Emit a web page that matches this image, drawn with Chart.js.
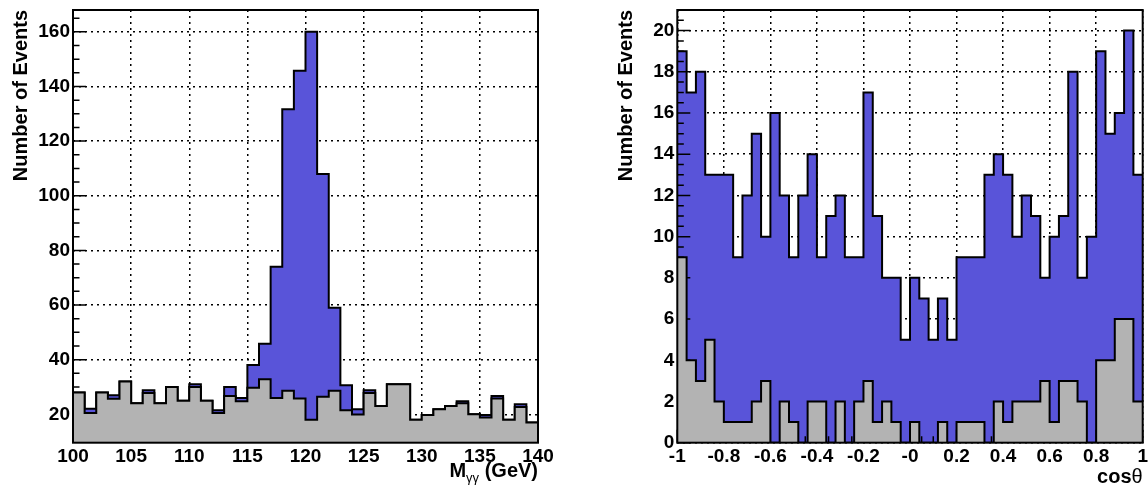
<!DOCTYPE html>
<html>
<head>
<meta charset="utf-8">
<script src="https://cdn.jsdelivr.net/npm/chart.js@4.4.0/dist/chart.umd.min.js"></script>
<style>
  html, body { margin: 0; padding: 0; background: #fff; }
  #wrap { position: relative; width: 1148px; height: 491px; overflow: hidden; }
  canvas { position: absolute; top: 0; }
  #massChart { left: 0; }
  #cosChart { left: 574px; }
</style>
</head>
<body>
<div id="wrap">
  <canvas id="massChart" width="574" height="491"></canvas>
  <canvas id="cosChart" width="574" height="491"></canvas>
</div>
<script>
// ---- left panel: diphoton mass ----
const massBinLow = [100, 101, 102, 103, 104, 105, 106, 107, 108, 109,
                    110, 111, 112, 113, 114, 115, 116, 117, 118, 119,
                    120, 121, 122, 123, 124, 125, 126, 127, 128, 129,
                    130, 131, 132, 133, 134, 135, 136, 137, 138, 139];
const massBinWidth = 1;
const massBackground = [28, 20.5, 28, 25.7, 32, 24, 27.8, 24, 30, 25,
                        30, 25, 20.5, 26.7, 24.8, 29.7, 32.8, 26, 28.6, 25.8,
                        18, 26.4, 28.6, 21.5, 19.9, 27.8, 23, 31, 31, 18,
                        19.7, 21.8, 23, 24, 20, 18.8, 25.8, 18, 22.7, 17];
const massSignal = [0, 1.5, 0, 1.3, 0, 0, 1, 0, 0, 0,
                    1, 0, 1, 3.3, 1.2, 8.3, 13, 48, 103.1, 120,
                    142, 81.6, 30.4, 9.1, 1.9, 1, 0, 0, 0, 0,
                    0, 0, 0, 0.8, 0, 0.9, 0.9, 0, 1, 0];
const massTicks = [100, 105, 110, 115, 120, 125, 130, 135, 140];
const massYTicks = [20, 40, 60, 80, 100, 120, 140, 160];

// ---- right panel: cos(theta) ----
const cosBinLow = [-1, -0.96, -0.92, -0.88, -0.84, -0.8, -0.76, -0.72, -0.68, -0.64,
                   -0.6, -0.56, -0.52, -0.48, -0.44, -0.4, -0.36, -0.32, -0.28, -0.24,
                   -0.2, -0.16, -0.12, -0.08, -0.04, 0, 0.04, 0.08, 0.12, 0.16,
                   0.2, 0.24, 0.28, 0.32, 0.36, 0.4, 0.44, 0.48, 0.52, 0.56,
                   0.6, 0.64, 0.68, 0.72, 0.76, 0.8, 0.84, 0.88, 0.92, 0.96];
const cosBinWidth = 0.04;
const cosBackground = [9, 4, 3, 5, 2, 1, 1, 1, 2, 3,
                       0, 2, 1, 0, 2, 2, 0, 2, 0, 2,
                       3, 1, 2, 1, 0, 1, 0, 0, 1, 0,
                       1, 1, 1, 0, 2, 1, 2, 2, 2, 3,
                       1, 3, 3, 2, 0, 4, 4, 6, 6, 2];
const cosSignal = [10, 13, 15, 8, 11, 12, 8, 11, 13, 7,
                   16, 10, 8, 12, 12, 7, 11, 10, 9, 7,
                   14, 10, 6, 7, 5, 7, 7, 5, 6, 5,
                   8, 8, 8, 13, 12, 12, 8, 10, 9, 5,
                   9, 8, 15, 6, 10, 15, 11, 10, 14, 11];
const cosTicks = [-1, -0.8, -0.6, -0.4, -0.2, 0, 0.2, 0.4, 0.6, 0.8, 1];
const cosTickLabels = ['-1', '-0.8', '-0.6', '-0.4', '-0.2', '-0', '0.2', '0.4', '0.6', '0.8', '1'];
const cosYTicks = [0, 2, 4, 6, 8, 10, 12, 14, 16, 18, 20];

const yTitle = 'Number of Events';
const massTitleParts = ['M', 'γγ', ' (GeV)'];
const cosTitleParts = ['cos', 'θ'];

const BLUE = 'rgb(89, 84, 217)';
const GRAY = 'rgb(179, 179, 179)';
const FAMILY = "'Liberation Sans', Arial, Helvetica, sans-serif";

// histogram as step points on bin edges (last point closes the final bin)
function stepPoints(binLow, width, values) {
    const pts = binLow.map((x, i) => ({ x: x, y: values[i] }));
    const n = binLow.length;
    pts.push({ x: binLow[n - 1] + width, y: values[n - 1] });
    return pts;
}

function drawAxisTicks(chart, o) {
    const ctx = chart.ctx;
    const a = chart.chartArea;
    const xs = chart.scales.x, ys = chart.scales.y;
    ctx.save();
    ctx.strokeStyle = '#000';
    ctx.lineWidth = 1.5;
    ctx.beginPath();
    // y ticks, drawn inwards from the left edge
    for (let k = Math.ceil(ys.min / o.yMinor - 1e-9); k * o.yMinor <= ys.max + 1e-9; k++) {
        const py = ys.getPixelForValue(k * o.yMinor);
        const len = (k % o.yRatio === 0) ? o.majorLen : o.minorLen;
        ctx.moveTo(a.left, py);
        ctx.lineTo(a.left + len, py);
    }
    // x ticks, drawn upwards from the bottom edge
    for (let k = Math.ceil(xs.min / o.xMinor - 1e-9); k * o.xMinor <= xs.max + 1e-9; k++) {
        const px = xs.getPixelForValue(k * o.xMinor);
        const len = (k % o.xRatio === 0) ? o.majorLen : o.minorLen;
        ctx.moveTo(px, a.bottom);
        ctx.lineTo(px, a.bottom - len);
    }
    ctx.stroke();
    ctx.restore();
}

function drawTitles(chart, o) {
    const ctx = chart.ctx;
    ctx.save();
    ctx.fillStyle = '#000';
    // y title, rotated, ending at the top of the axis
    ctx.translate(o.yTitleX, chart.chartArea.top);
    ctx.rotate(-Math.PI / 2);
    ctx.font = 'bold 20px ' + FAMILY;
    ctx.textAlign = 'right';
    ctx.textBaseline = 'alphabetic';
    ctx.fillText(yTitle, 0, 0);
    ctx.restore();

    // x title, right aligned under the axis
    ctx.save();
    ctx.fillStyle = '#000';
    ctx.textAlign = 'left';
    ctx.textBaseline = 'alphabetic';
    const parts = o.xTitle;
    let total = 0;
    parts.forEach(p => { ctx.font = p.font; p.w = ctx.measureText(p.text).width; total += p.w; });
    let x = chart.chartArea.right - total;
    parts.forEach(p => {
        ctx.font = p.font;
        ctx.fillText(p.text, x, o.xTitleY + (p.dy || 0));
        x += p.w;
    });
    ctx.restore();
}

const rootFrame = {
    id: 'rootFrame',
    // the stack total is dataset 1 and is drawn first; axis ticks go over it
    // but under the background histogram, like the original
    afterDatasetDraw(chart, args, o) {
        if (args.index === 1) drawAxisTicks(chart, o);
    },
    afterDatasetsDraw(chart, args, o) {
        const a = chart.chartArea;
        const ctx = chart.ctx;
        ctx.save();
        ctx.strokeStyle = '#000';
        ctx.lineWidth = 2;
        ctx.strokeRect(a.left, a.top, a.right - a.left, a.bottom - a.top);
        ctx.restore();
    },
    afterDraw(chart, args, o) {
        drawTitles(chart, o);
    }
};

function makeHist(id, cfg) {
    const total = cfg.background.map((b, i) => b + cfg.signal[i]);
    const tickFont = { family: FAMILY, size: 19, weight: 'bold' };
    return new Chart(document.getElementById(id), {
        type: 'line',
        data: {
            datasets: [
                {
                    data: stepPoints(cfg.binLow, cfg.binWidth, cfg.background),
                    stepped: true,
                    fill: 'origin',
                    backgroundColor: GRAY,
                    borderColor: '#000',
                    borderWidth: 2
                },
                {
                    data: stepPoints(cfg.binLow, cfg.binWidth, total),
                    stepped: true,
                    fill: '-1',
                    backgroundColor: BLUE,
                    borderColor: '#000',
                    borderWidth: 2
                }
            ]
        },
        plugins: [rootFrame],
        options: {
            responsive: false,
            animation: false,
            events: [],
            layout: { padding: { left: 0, top: 10, right: cfg.padRight, bottom: 0 } },
            elements: { point: { radius: 0 }, line: { tension: 0 } },
            plugins: {
                legend: { display: false },
                tooltip: { enabled: false },
                rootFrame: cfg.frame
            },
            scales: {
                x: {
                    type: 'linear',
                    min: cfg.xMin,
                    max: cfg.xMax,
                    afterBuildTicks: s => { s.ticks = cfg.xTicks.map(v => ({ value: v })); },
                    afterFit: s => { s.height = 48.3; s.paddingLeft = 0; s.paddingRight = 0; },
                    grid: { color: '#000', lineWidth: 1.5, drawTicks: false },
                    border: { display: false, dash: [2, 4] },
                    ticks: {
                        font: tickFont, color: '#000', padding: 3,
                        maxRotation: 0, autoSkip: false,
                        callback: (v, i) => cfg.xLabels[i]
                    }
                },
                y: {
                    min: cfg.yMin,
                    max: cfg.yMax,
                    afterBuildTicks: s => { s.ticks = cfg.yTicks.map(v => ({ value: v })); },
                    afterFit: s => { s.width = cfg.yWidth; s.paddingTop = 0; s.paddingBottom = 0; },
                    grid: { color: '#000', lineWidth: 1.5, drawTicks: false },
                    border: { display: false, dash: [2, 4] },
                    ticks: { font: tickFont, color: '#000', padding: 3, autoSkip: false }
                }
            }
        }
    });
}

const titleFont = 'bold 20px ' + FAMILY;

makeHist('massChart', {
    binLow: massBinLow, binWidth: massBinWidth,
    background: massBackground, signal: massSignal,
    xMin: 100, xMax: 140, xTicks: massTicks, xLabels: massTicks.map(String),
    yMin: 9.6, yMax: 168, yTicks: massYTicks,
    yWidth: 73, padRight: 36,
    frame: {
        xMinor: 1, xRatio: 5, yMinor: 5, yRatio: 4,
        majorLen: 13, minorLen: 6.5,
        yTitleX: 26.7,
        xTitleY: 477,
        xTitle: [
            { text: massTitleParts[0], font: titleFont },
            { text: massTitleParts[1], font: '13px ' + FAMILY, dy: 5 },
            { text: massTitleParts[2], font: titleFont }
        ]
    }
});

makeHist('cosChart', {
    binLow: cosBinLow, binWidth: cosBinWidth,
    background: cosBackground, signal: cosSignal,
    xMin: -1, xMax: 1, xTicks: cosTicks, xLabels: cosTickLabels,
    yMin: 0, yMax: 21, yTicks: cosYTicks,
    yWidth: 103.3, padRight: 5.3,
    frame: {
        xMinor: 0.05, xRatio: 4, yMinor: 0.5, yRatio: 4,
        majorLen: 13, minorLen: 6.5,
        yTitleX: 57.7,
        xTitleY: 483,
        xTitle: [
            { text: cosTitleParts[0], font: titleFont },
            { text: cosTitleParts[1], font: '20px ' + FAMILY }
        ]
    }
});
</script>
</body>
</html>
